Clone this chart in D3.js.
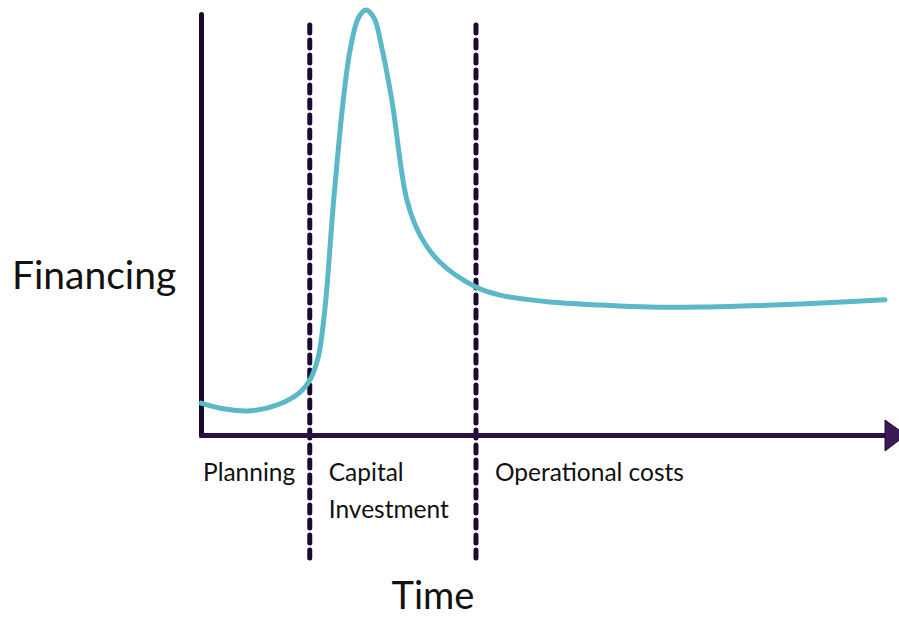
<!DOCTYPE html>
<html>
<head>
<meta charset="utf-8">
<script src="https://cdn.jsdelivr.net/npm/d3@7"></script>
<style>
  body { margin: 0; background: #fff; }
  text { font-family: Lato, "Noto Sans", sans-serif; fill: #111; }
</style>
</head>
<body>
<div id="chart-area"></div>
<script>
// time (0-100) vs financing (0-100)
const time = [0, 3.5, 7.2, 11.5, 14.5, 15.9, 17.1, 18.1, 19.4, 20.8, 21.8, 23.0, 24.1,
              25.3, 26.5, 27.9, 30.1, 32.0, 34.9, 40.2, 43.7, 51.0, 58.3, 65.6, 73.0, 80.3, 87.6, 100];
const financing = [7.5, 6.1, 5.7, 7.3, 10.1, 12.9, 18.1, 29.4, 55.3, 78.8, 90.6, 98.1, 100,
                   98.1, 90.6, 78.8, 55.3, 47.1, 40.7, 34.8, 32.9, 31.3, 30.6, 30.1, 30.1, 30.4, 30.8, 31.8];
const phaseBounds = [15.9, 40.2];
const phaseNames = [["Planning"], ["Capital", "Investment"], ["Operational costs"]];
const phaseStarts = [0, 15.9, 40.2];

let width = 899, height = 618;
let svg = d3.select("#chart-area").append("svg")
    .attr("width", width)
    .attr("height", height);

let x = d3.scaleLinear().domain([0, 100]).range([201, 885]);
let y = d3.scaleLinear().domain([0, 100]).range([435, 10]);

// dashed phase separators
svg.selectAll(".phase")
    .data(phaseBounds)
    .enter().append("line")
        .attr("x1", d => x(d)).attr("x2", d => x(d))
        .attr("y1", 25).attr("y2", 562)
        .attr("stroke", "#1c0a30")
        .attr("stroke-width", 5)
        .attr("stroke-linecap", "round")
        .attr("stroke-dasharray", "8,7");

// axes
let yAxis = svg.append("g")
    .attr("transform", `translate(${x(0)},0)`)
    .call(d3.axisLeft(d3.scaleLinear().range([435, 14])).tickValues([]).tickSizeOuter(0));
yAxis.select(".domain").attr("stroke", "#160826").attr("stroke-width", 5).attr("stroke-linecap", "round");

let xAxis = svg.append("g")
    .attr("transform", `translate(0,${y(0)})`)
    .call(d3.axisBottom(d3.scaleLinear().range([199, 888])).tickValues([]).tickSizeOuter(0));
xAxis.select(".domain").attr("stroke", "#2a1240").attr("stroke-width", 5);

svg.append("path")
    .attr("d", `M885,420 L906,${y(0)} L885,451 Z`)
    .attr("fill", "#3a1b58")
    .attr("stroke", "#1c0a30")
    .attr("stroke-width", 1);

// financing curve
let line = d3.line()
    .x((d, i) => x(time[i]))
    .y(d => y(d))
    .curve(d3.curveCatmullRom.alpha(0.5));

svg.append("path")
    .datum(financing)
    .attr("d", line)
    .attr("fill", "none")
    .attr("stroke", "#5bb8c8")
    .attr("stroke-width", 5)
    .attr("stroke-linecap", "round");

// phase labels
phaseNames.forEach((lines, i) => {
    let lx = x(phaseStarts[i]) + (i === 0 ? 2 : 19);
    let t = svg.append("text")
        .attr("x", lx)
        .attr("y", 481)
        .attr("font-size", "24.5px");
    lines.forEach((s, j) => {
        t.append("tspan")
            .attr("x", lx)
            .attr("dy", j === 0 ? 0 : 37)
            .text(s);
    });
});

// axis titles
svg.append("text")
    .attr("x", 12)
    .attr("y", 289)
    .attr("font-size", "39px")
    .text("Financing");

svg.append("text")
    .attr("x", 433)
    .attr("y", 609)
    .attr("font-size", "38px")
    .attr("text-anchor", "middle")
    .text("Time");
</script>
</body>
</html>
